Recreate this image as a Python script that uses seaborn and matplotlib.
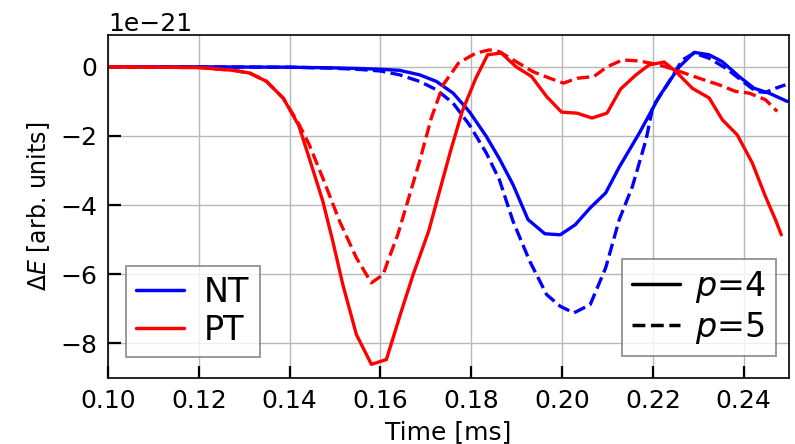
import numpy as np
import pandas as pd
import matplotlib
matplotlib.use("Agg")
import matplotlib.pyplot as plt
import seaborn as sns
from matplotlib.lines import Line2D

# ---- data, Time in ms, dE in 1e-21 arb. units ----
t_nt4 = [0.100, 0.120, 0.140, 0.150, 0.156, 0.160, 0.1642, 0.1686, 0.1723, 0.1760, 0.1796,
         0.1833, 0.1862, 0.1892, 0.1925, 0.1962, 0.1996, 0.2029, 0.2062, 0.2096, 0.2126,
         0.2170, 0.2214, 0.2258, 0.2291, 0.2324, 0.2353, 0.2390, 0.2423, 0.2456, 0.2496]
e_nt4 = [0.00, 0.00, -0.01, -0.03, -0.05, -0.07, -0.10, -0.23, -0.42, -0.76, -1.30,
         -2.01, -2.66, -3.41, -4.42, -4.83, -4.86, -4.57, -4.08, -3.65, -2.90,
         -1.92, -0.86, 0.00, 0.42, 0.35, 0.15, -0.28, -0.62, -0.76, -1.00]

t_nt5 = [0.100, 0.120, 0.140, 0.150, 0.156, 0.160, 0.1642, 0.1686, 0.1723, 0.1760, 0.1796,
         0.1833, 0.1862, 0.1892, 0.1929, 0.1966, 0.1996, 0.2026, 0.2062, 0.2096, 0.2126,
         0.2155, 0.2185, 0.2200, 0.2229, 0.2265, 0.2291, 0.2324, 0.2361, 0.2398, 0.2427,
         0.2448, 0.2470, 0.2492]
e_nt5 = [0.00, 0.00, -0.01, -0.04, -0.08, -0.12, -0.23, -0.42, -0.66, -1.05, -1.68,
         -2.49, -3.27, -4.47, -5.63, -6.59, -6.93, -7.12, -6.88, -5.82, -4.42,
         -3.46, -2.11, -1.15, -0.57, 0.20, 0.40, 0.25, -0.04, -0.42, -0.71,
         -0.74, -0.62, -0.52]

t_pt4 = [0.100, 0.120, 0.1276, 0.1312, 0.1349, 0.1386, 0.1420, 0.1443, 0.1473, 0.1495,
         0.1517, 0.1547, 0.1580, 0.1613, 0.1646, 0.1672, 0.1706, 0.1728, 0.1754, 0.1780,
         0.1810, 0.1836, 0.1866, 0.1899, 0.1933, 0.1966, 0.1999, 0.2033, 0.2066, 0.2099,
         0.2129, 0.2163, 0.2192, 0.2225, 0.2251, 0.2287, 0.2324, 0.2353, 0.2386, 0.2419,
         0.2448, 0.2470, 0.2483]
e_pt4 = [0.00, -0.02, -0.10, -0.18, -0.42, -0.91, -1.70, -2.64, -3.89, -5.05,
         -6.30, -7.75, -8.61, -8.47, -7.07, -6.01, -4.76, -3.70, -2.45, -1.29,
         -0.33, 0.35, 0.40, 0.00, -0.28, -0.86, -1.31, -1.34, -1.48, -1.34,
         -0.64, -0.23, 0.06, 0.14, -0.14, -0.62, -0.90, -1.53, -1.97, -2.78,
         -3.75, -4.42, -4.86]

t_pt5 = [0.100, 0.120, 0.1276, 0.1312, 0.1349, 0.1386, 0.1420, 0.1443, 0.1473, 0.1510,
         0.1547, 0.1580, 0.1606, 0.1616, 0.1638, 0.1660, 0.1686, 0.1712, 0.1738, 0.1772,
         0.1810, 0.1840, 0.1862, 0.1899, 0.1936, 0.1973, 0.2003, 0.2033, 0.2070, 0.2099,
         0.2133, 0.2170, 0.2214, 0.2250, 0.2302, 0.2346, 0.2382, 0.2412, 0.2448, 0.2474]
e_pt5 = [0.00, -0.02, -0.10, -0.18, -0.42, -0.91, -1.65, -2.25, -3.22, -4.47,
         -5.53, -6.25, -6.01, -5.63, -4.86, -3.89, -2.74, -1.48, -0.52, 0.11,
         0.40, 0.49, 0.44, 0.15, -0.14, -0.33, -0.47, -0.33, -0.28, 0.00,
         0.20, 0.17, 0.06, -0.09, -0.33, -0.52, -0.71, -0.76, -0.95, -1.29]

configs = ["NT", "PT"]
p_labels = ["$p$=4", "$p$=5"]
x_ticks = [0.10, 0.12, 0.14, 0.16, 0.18, 0.20, 0.22, 0.24]
y_ticks = [0, -2, -4, -6, -8]

series = [
    ("NT", "$p$=4", t_nt4, e_nt4),
    ("NT", "$p$=5", t_nt5, e_nt5),
    ("PT", "$p$=4", t_pt4, e_pt4),
    ("PT", "$p$=5", t_pt5, e_pt5),
]
frames = []
for cfg, p, t, e in series:
    frames.append(pd.DataFrame({"Time": t, "dE": np.array(e) * 1e-21,
                                "config": cfg, "p": p}))
df = pd.concat(frames, ignore_index=True)

# ---- style ----
sns.set_theme(style="whitegrid")
plt.rcParams["font.family"] = ["DejaVu Sans"]
plt.rcParams["mathtext.fontset"] = "dejavusans"
plt.rcParams["text.color"] = "black"
plt.rcParams["axes.labelcolor"] = "black"
plt.rcParams["xtick.color"] = "black"
plt.rcParams["ytick.color"] = "black"

fig = plt.figure(figsize=(7.95, 4.44), dpi=100)
ax = fig.add_axes([0.136, 0.149, 0.9925 - 0.136, 0.921 - 0.149])

palette = {"NT": "#0000ff", "PT": "#ff0000"}
dash_map = {"$p$=4": "-", "$p$=5": "--"}
for cfg in configs:
    for p in p_labels:
        sub = df[(df["config"] == cfg) & (df["p"] == p)]
        sns.lineplot(data=sub, x="Time", y="dE", ax=ax, color=palette[cfg],
                     linestyle=dash_map[p], linewidth=2.4, estimator=None,
                     sort=False, legend=False)

ax.set_xlim(0.10, 0.25)
ax.set_ylim(-9.0e-21, 0.92e-21)
ax.set_xticks(x_ticks)
ax.set_xticklabels([f"{v:.2f}" for v in x_ticks])
ax.set_yticks([v * 1e-21 for v in y_ticks])
ax.ticklabel_format(axis="y", style="sci", scilimits=(0, 0), useMathText=False)
ax.yaxis.get_offset_text().set_fontsize(18)

ax.set_xlabel("Time [ms]", fontsize=18, labelpad=5)
ax.set_ylabel(r"$\Delta E$ [arb. units]", fontsize=17, labelpad=6)

ax.set_facecolor("white")
ax.grid(True, color="#b8b8b8", linewidth=1.0)
for s in ax.spines.values():
    s.set_edgecolor("black")
    s.set_linewidth(1.2)
    s.set_visible(True)
ax.tick_params(axis="both", direction="in", length=9, width=1.6, labelsize=18,
               color="black", labelcolor="black", bottom=True, left=True, pad=8)

h1 = [Line2D([0], [0], color=palette[c], lw=2.5) for c in configs]
leg1 = ax.legend(h1, configs, loc="lower left", bbox_to_anchor=(0.026, 0.061),
                 borderaxespad=0.0,
                 fontsize=24, handlelength=1.45, handletextpad=0.6, borderpad=0.3,
                 labelspacing=0.15, fancybox=False, edgecolor="#777777", framealpha=0.8)
leg1.get_frame().set_linewidth(1.3)
ax.add_artist(leg1)
h2 = [Line2D([0], [0], color="black", lw=2.5, linestyle=dash_map[p]) for p in p_labels]
leg2 = ax.legend(h2, p_labels, loc="lower right", bbox_to_anchor=(0.981, 0.064),
                 borderaxespad=0.0,
                 fontsize=24, handlelength=1.45, handletextpad=0.45, borderpad=0.3,
                 labelspacing=0.15, fancybox=False, edgecolor="#777777", framealpha=0.8)
leg2.get_frame().set_linewidth(1.3)

fig.savefig("out.png", dpi=100)
